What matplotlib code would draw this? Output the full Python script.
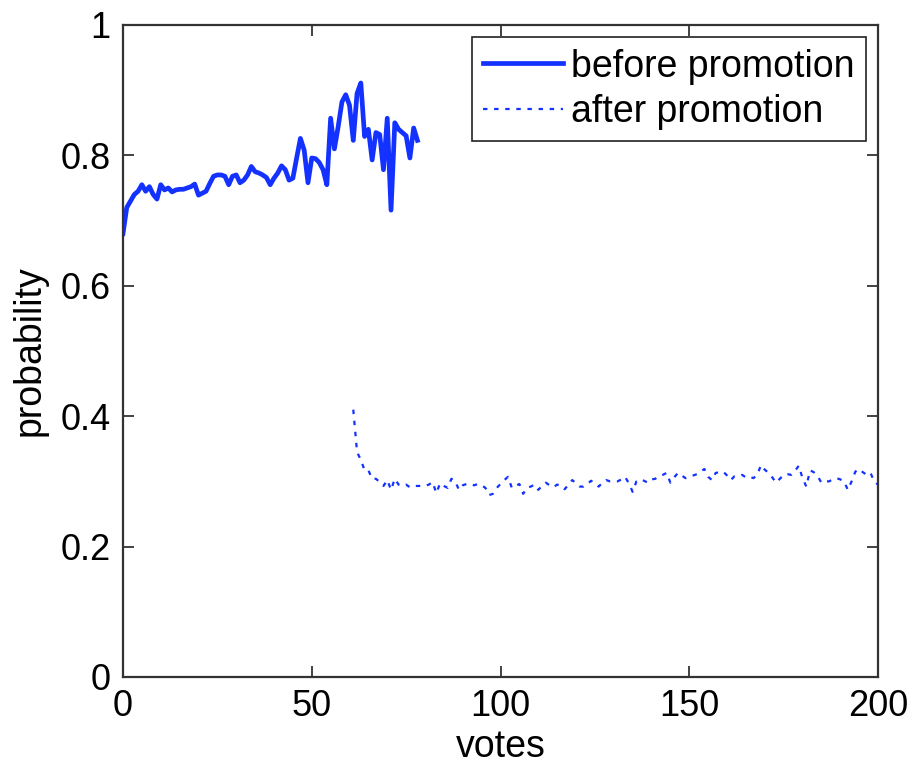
import matplotlib
matplotlib.use('Agg')
import matplotlib.pyplot as plt
import numpy as np

plt.rcParams['font.family'] = ['Liberation Sans', 'DejaVu Sans']

# probability before promotion, one value per vote starting at 0
prob_before = [0.68, 0.72, 0.73, 0.74, 0.745, 0.755, 0.745, 0.752, 0.74, 0.733,
               0.755, 0.747, 0.75, 0.744, 0.747, 0.748, 0.748, 0.75, 0.752, 0.756,
               0.739, 0.742, 0.745, 0.757, 0.768, 0.77, 0.77, 0.768, 0.755, 0.768,
               0.77, 0.758, 0.762, 0.77, 0.783, 0.775, 0.773, 0.77, 0.766, 0.755,
               0.765, 0.773, 0.784, 0.778, 0.762, 0.765, 0.796, 0.826, 0.808, 0.758,
               0.796, 0.795, 0.789, 0.778, 0.755, 0.857, 0.81, 0.844, 0.882, 0.893,
               0.877, 0.823, 0.895, 0.911, 0.829, 0.84, 0.793, 0.835, 0.832, 0.778,
               0.857, 0.716, 0.85, 0.84, 0.835, 0.83, 0.796, 0.842, 0.823]

# probability after promotion, one value per vote starting at 61
prob_after = [0.41, 0.345, 0.333, 0.317, 0.317, 0.304, 0.304, 0.299, 0.293, 0.302,
              0.287, 0.304, 0.295, 0.293, 0.295, 0.291, 0.293, 0.293, 0.293, 0.293,
              0.295, 0.299, 0.282, 0.297, 0.293, 0.29, 0.304, 0.30, 0.287, 0.294,
              0.296, 0.296, 0.294, 0.296, 0.294, 0.29, 0.279, 0.281, 0.29, 0.296,
              0.302, 0.307, 0.29, 0.293, 0.296, 0.281, 0.29, 0.292, 0.295, 0.287,
              0.293, 0.298, 0.294, 0.291, 0.295, 0.294, 0.288, 0.295, 0.302, 0.297,
              0.292, 0.292, 0.296, 0.301, 0.296, 0.292, 0.298, 0.302, 0.30, 0.30,
              0.30, 0.303, 0.307, 0.297, 0.284, 0.30, 0.303, 0.301, 0.298, 0.303,
              0.304, 0.308, 0.31, 0.313, 0.298, 0.306, 0.313, 0.309, 0.305, 0.307,
              0.309, 0.311, 0.315, 0.319, 0.307, 0.302, 0.313, 0.314, 0.315, 0.309,
              0.302, 0.308, 0.309, 0.31, 0.306, 0.307, 0.305, 0.31, 0.325, 0.318,
              0.313, 0.306, 0.298, 0.304, 0.31, 0.311, 0.31, 0.316, 0.324, 0.305,
              0.292, 0.317, 0.314, 0.308, 0.298, 0.30, 0.30, 0.303, 0.305, 0.303,
              0.30, 0.287, 0.30, 0.315, 0.319, 0.314, 0.31, 0.313, 0.30, 0.295]

votes_before = np.arange(0, len(prob_before))
votes_after = np.arange(61, 61 + len(prob_after))

blue = '#1432ff'
fs_tick = 26
fs_lab = 27

fig = plt.figure(figsize=(9.13, 7.64), dpi=100)
ax = fig.add_axes([0.1347, 0.1139, 0.827, 0.8534])

ax.plot(votes_before, prob_before, color=blue, linewidth=3.4, label='before promotion')
ax.plot(votes_after, prob_after, color=blue, linewidth=1.6, linestyle=(0, (2, 3)),
        dash_capstyle='butt', label='after promotion')

ax.set_xlim(0, 200)
ax.set_ylim(0, 1)
ax.set_xticks([0, 50, 100, 150, 200])
ax.set_yticks([0, 0.2, 0.4, 0.6, 0.8, 1])
ax.set_yticklabels(['0', '0.2', '0.4', '0.6', '0.8', '1'])
ax.tick_params(direction='in', top=True, right=True, length=8, width=1.2,
               labelsize=fs_tick, pad=9, colors='#222222', labelcolor='black')
for s in ax.spines.values():
    s.set_linewidth(1.6)
    s.set_color('#333333')
ax.set_xlabel('votes', fontsize=fs_lab, labelpad=3)
ax.set_ylabel('probability', fontsize=fs_lab, labelpad=9)

leg = ax.legend(loc='upper right', fontsize=fs_lab, handlelength=2.15, handletextpad=0.2,
                labelspacing=0.25, borderpad=0.3, borderaxespad=0.33,
                fancybox=False, framealpha=1, edgecolor='#222222')
leg.get_frame().set_linewidth(1.2)

fig.savefig('out.png', dpi=100)
